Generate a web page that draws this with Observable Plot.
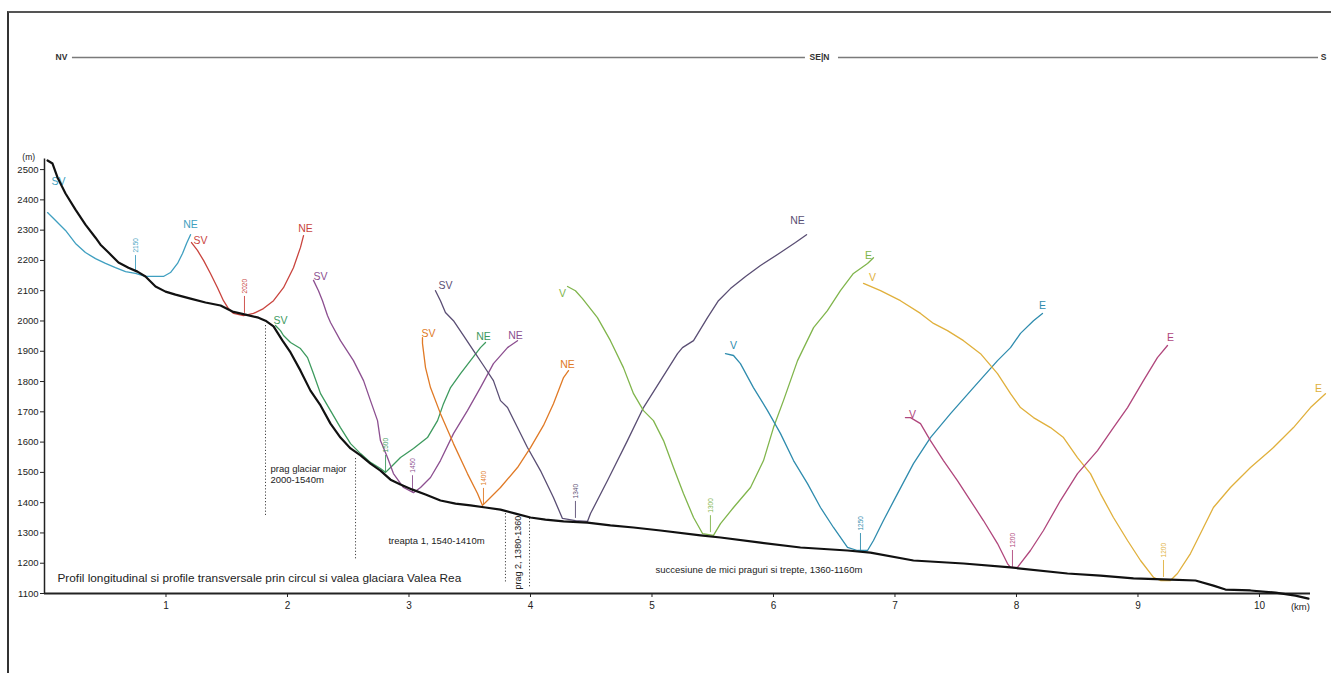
<!DOCTYPE html>
<html><head><meta charset="utf-8">
<script src="https://cdn.jsdelivr.net/npm/d3@7"></script>
<script src="https://cdn.jsdelivr.net/npm/@observablehq/plot@0.6"></script>
<style>
html,body{margin:0;padding:0;background:#fff;}
#wrap{position:relative;width:1331px;height:673px;overflow:hidden;}
#frame{position:absolute;left:7px;top:11px;right:-5px;bottom:-5px;border-top:2px solid #555;border-left:2px solid #333;pointer-events:none;}
</style></head><body><div id="wrap"><div id="chart"></div><div id="frame"></div></div>
<script>
// ---- data (km, m) ----
const longitudinal = [[0.025,2530],[0.066,2520],[0.107,2474],[0.173,2421],[0.255,2368],[0.337,2318],[0.42,2275],[0.461,2252],[0.527,2226],[0.609,2193],[0.691,2176],[0.765,2163],[0.831,2147],[0.914,2114],[0.996,2097],[1.078,2087],[1.202,2074],[1.325,2061],[1.449,2051],[1.547,2031],[1.654,2021],[1.761,2011],[1.819,2001],[1.885,1982],[1.959,1935],[2.025,1896],[2.107,1836],[2.189,1770],[2.272,1721],[2.354,1661],[2.436,1615],[2.519,1579],[2.601,1556],[2.683,1529],[2.765,1506],[2.848,1476],[2.93,1460],[3.029,1443],[3.136,1427],[3.259,1407],[3.383,1397],[3.506,1391],[3.63,1384],[3.753,1377],[3.877,1364],[4.0,1351],[4.123,1344],[4.272,1338],[4.469,1334],[4.658,1325],[4.848,1318],[5.07,1308],[5.399,1292],[5.564,1285],[5.893,1268],[6.222,1252],[6.609,1242],[6.798,1235],[7.152,1209],[7.564,1199],[7.951,1186],[8.42,1166],[8.691,1159],[8.963,1150],[9.267,1146],[9.473,1143],[9.621,1126],[9.72,1113],[9.926,1110],[10.132,1103],[10.296,1093],[10.403,1083]];

const profile1 = [[0.025,2358],[0.091,2332],[0.173,2299],[0.255,2256],[0.337,2226],[0.42,2206],[0.502,2190],[0.584,2176],[0.667,2163],[0.749,2157],[0.831,2147],[0.979,2147],[1.037,2160],[1.095,2190],[1.136,2223],[1.169,2256],[1.202,2285]];
const profile2 = [[1.21,2259],[1.259,2233],[1.309,2200],[1.366,2157],[1.424,2110],[1.473,2067],[1.514,2041],[1.556,2025],[1.638,2018],[1.72,2025],[1.802,2041],[1.885,2067],[1.967,2110],[2.049,2176],[2.107,2243],[2.132,2282]];
const profile3 = [[1.901,1985],[1.942,1968],[1.967,1952],[2.025,1929],[2.107,1909],[2.165,1879],[2.214,1826],[2.272,1760],[2.354,1704],[2.436,1648],[2.519,1595],[2.601,1562],[2.683,1533],[2.765,1513],[2.807,1500],[2.848,1516],[2.93,1549],[3.037,1579],[3.152,1615],[3.235,1671],[3.284,1727],[3.342,1780],[3.424,1826],[3.506,1869],[3.588,1912],[3.63,1929]];
const profile4 = [[2.214,2134],[2.255,2100],[2.288,2067],[2.329,2018],[2.354,1995],[2.436,1935],[2.543,1869],[2.626,1803],[2.683,1737],[2.741,1671],[2.765,1605],[2.823,1549],[2.872,1496],[2.955,1450],[3.037,1433],[3.095,1450],[3.177,1483],[3.259,1539],[3.366,1628],[3.481,1704],[3.588,1780],[3.695,1859],[3.811,1912],[3.893,1935]];
const profile5 = [[3.218,2100],[3.259,2067],[3.30,2028],[3.366,2001],[3.449,1952],[3.531,1902],[3.613,1853],[3.695,1803],[3.753,1737],[3.811,1714],[3.893,1648],[3.975,1582],[4.082,1506],[4.189,1417],[4.263,1348],[4.37,1341],[4.469,1338],[4.494,1364],[4.634,1473],[4.798,1605],[4.93,1714],[5.07,1803],[5.21,1892],[5.251,1912],[5.342,1935],[5.457,2011],[5.547,2067],[5.646,2107],[5.77,2147],[5.893,2183],[6.058,2226],[6.181,2259],[6.272,2285]];
const profile6 = [[3.111,1945],[3.111,1926],[3.136,1846],[3.177,1780],[3.259,1694],[3.366,1595],[3.481,1496],[3.564,1430],[3.605,1391],[3.646,1407],[3.753,1450],[3.893,1516],[4.0,1582],[4.107,1655],[4.189,1727],[4.272,1813],[4.313,1836]];
const profile7 = [[4.305,2114],[4.37,2100],[4.428,2074],[4.551,2011],[4.658,1935],[4.765,1846],[4.848,1760],[4.93,1704],[5.012,1671],[5.095,1605],[5.177,1516],[5.259,1430],[5.342,1351],[5.416,1298],[5.506,1292],[5.564,1331],[5.671,1384],[5.811,1450],[5.918,1539],[6.0,1648],[6.082,1737],[6.198,1869],[6.33,1978],[6.444,2034],[6.551,2100],[6.658,2157],[6.774,2190],[6.823,2209]];
const profile8 = [[5.605,1892],[5.671,1886],[5.728,1859],[5.835,1780],[5.951,1704],[6.058,1628],[6.165,1539],[6.28,1463],[6.387,1384],[6.494,1318],[6.609,1252],[6.691,1242],[6.774,1242],[6.823,1275],[6.905,1341],[7.021,1430],[7.152,1529],[7.292,1615],[7.457,1694],[7.646,1780],[7.844,1869],[7.951,1912],[8.033,1959],[8.14,2001],[8.214,2025]];
const profile9 = [[6.741,2124],[6.881,2100],[7.045,2067],[7.21,2025],[7.317,1992],[7.432,1968],[7.564,1935],[7.704,1892],[7.844,1826],[7.951,1760],[8.033,1714],[8.14,1681],[8.28,1648],[8.387,1615],[8.502,1549],[8.609,1496],[8.691,1430],[8.798,1351],[8.914,1275],[9.021,1209],[9.128,1153],[9.185,1143],[9.267,1143],[9.325,1166],[9.432,1232],[9.539,1318],[9.621,1384],[9.761,1450],[9.926,1516],[10.115,1582],[10.28,1648],[10.42,1714],[10.543,1760]];
const profile10 = [[7.086,1681],[7.128,1681],[7.21,1661],[7.292,1605],[7.399,1539],[7.514,1473],[7.621,1407],[7.728,1341],[7.844,1265],[7.926,1199],[7.951,1186],[8.008,1186],[8.115,1242],[8.222,1308],[8.362,1407],[8.502,1496],[8.667,1572],[8.798,1648],[8.914,1714],[9.045,1803],[9.16,1879],[9.243,1919]];

const profiles = [profile1, profile2, profile3, profile4, profile5, profile6, profile7, profile8, profile9, profile10];
const profileColors = ["#3f9fc0","#c9443e","#3d9a5e","#8c4f90","#5a4e74","#e07a26","#80b54c","#2f8cae","#e0b03c","#b0467c"];

// end labels of the transversal profiles: [profile index, text, km, m]
const endLabels = [
  [0,"SV",0.115,2460],[0,"NE",1.202,2318],
  [1,"SV",1.284,2266],[1,"NE",2.148,2305],
  [2,"SV",1.942,2001],[2,"NE",3.613,1949],
  [3,"SV",2.272,2147],[3,"NE",3.877,1952],
  [4,"SV",3.30,2117],[4,"NE",6.198,2332],
  [5,"SV",3.16,1959],[5,"NE",4.305,1856],
  [6,"V",4.263,2091],[6,"E",6.782,2216],
  [7,"V",5.671,1919],[7,"E",8.214,2051],
  [8,"V",6.815,2143],[8,"E",10.486,1777],
  [9,"V",7.144,1691],[9,"E",9.267,1945]
];
// valley-floor elevations of the transversal profiles: [profile index, label, km, m]
const floorLabels = [
  [0,"2150",0.749,2160],[1,"2020",1.646,2025],[2,"1500",2.807,1500],[3,"1450",3.029,1433],
  [4,"1340",4.37,1348],[5,"1400",3.613,1391],[6,"1300",5.481,1301],[7,"1250",6.716,1242],
  [8,"1200",9.21,1153],[9,"1200",7.967,1186]
];
// dotted limits of the sectors: [km, top m, bottom m]
const sectorLimits = [[1.819,1985,1351],[2.56,1546,1209],[3.794,1364,1133],[3.992,1348,1120]];
// annotations: [text, km, m]
const notes = [
  ["prag glaciar major\n2000-1540m",1.86,1526],
  ["treapta 1, 1540-1410m",2.831,1288],
  ["succesiune de mici praguri si trepte, 1360-1160m",5.029,1192]
];
const rotatedNote = ["prag 2, 1380-1360",3.901,1235];
const chartTitle = ["Profil longitudinal si profile transversale prin circul si valea glaciara Valea Rea",0.107,1150];
// orientation header: segments [from km, to km], labels [text, km]
const headerElev = 2870;
const headerSegments = [[0.23,6.263],[6.535,10.486]];
const headerLabels = [["NV",0.14,"middle"],["SE|N",6.379,"middle"],["S",10.527,"start"]];
const xTicks = [1,2,3,4,5,6,7,8,9,10];
const yTicks = [1100,1200,1300,1400,1500,1600,1700,1800,1900,2000,2100,2200,2300,2400,2500];

const font = "'Liberation Sans', Arial, Helvetica, sans-serif";
const marks = [
  Plot.axisY({ticks: yTicks, tickSize: 4, tickPadding: 2, fontSize: 9.5, label: null, tickFormat: d => String(d)}),
  Plot.axisX({ticks: xTicks, tickSize: 4, tickPadding: 4, fontSize: 10, label: null}),
  Plot.ruleX([0], {y1: 1100, y2: 2535, stroke: "#222", strokeWidth: 1.5}),
  Plot.ruleY([1100], {x1: 0, x2: 10.42, stroke: "#222", strokeWidth: 2}),
  Plot.text(["(m)"], {x: () => -0.13, y: () => 2540, text: d => d, fontSize: 8.5, fill: "#222"}),
  Plot.text(["(km)"], {x: () => 10.337, y: () => 1054, text: d => d, fontSize: 9.5, fill: "#222"}),
  Plot.ruleX(sectorLimits, {x: d => d[0], y1: d => d[1], y2: d => d[2], stroke: "#444", strokeWidth: 1, strokeDasharray: "1.2,2"}),
  Plot.ruleY(headerSegments, {y: () => headerElev, x1: d => d[0], x2: d => d[1], stroke: "#7a7a7a", strokeWidth: 1.6}),
  Plot.text(headerLabels, {x: d => d[1], y: () => headerElev, text: d => d[0], textAnchor: d => d[2], fontSize: 8.5, fontWeight: "bold", fill: "#333"}),
  ...profiles.map((p, i) => Plot.line(p, {x: d => d[0], y: d => d[1], stroke: profileColors[i], strokeWidth: 1.3})),
  Plot.ruleX(floorLabels, {x: d => d[2], y1: d => d[3], y2: d => d[3] + 56, stroke: d => profileColors[d[0]], strokeWidth: 0.9}),
  Plot.text(floorLabels, {x: d => d[2], y: d => d[3], text: d => d[1], rotate: -90, textAnchor: "start", dy: -20, fontSize: 6.5, fill: d => profileColors[d[0]]}),
  Plot.text(endLabels, {x: d => d[2], y: d => d[3], text: d => d[1], fontSize: 10.5, fill: d => profileColors[d[0]]}),
  Plot.line(longitudinal, {x: d => d[0], y: d => d[1], stroke: "#111", strokeWidth: 2.2}),
  Plot.text(notes, {x: d => d[1], y: d => d[2], text: d => d[0], textAnchor: "start", lineAnchor: "top", lineHeight: 1.15, fontSize: 9.5, fill: "#222"}),
  Plot.text([rotatedNote], {x: d => d[1], y: d => d[2], text: d => d[0], rotate: -90, fontSize: 9, fill: "#222"}),
  Plot.text([chartTitle], {x: d => d[1], y: d => d[2], text: d => d[0], textAnchor: "start", fontSize: 11.8, fill: "#222"})
];

const chart = Plot.plot({
  width: 1331, height: 673,
  marginLeft: 44, marginRight: 21, marginTop: 160, marginBottom: 80,
  x: {type: "linear", domain: [0, 10.42]},
  y: {type: "linear", domain: [1100, 2530]},
  style: {fontFamily: font, background: "#fff", overflow: "visible", color: "#222"},
  marks
});
document.getElementById("chart").appendChild(chart);
</script>
</body></html>
